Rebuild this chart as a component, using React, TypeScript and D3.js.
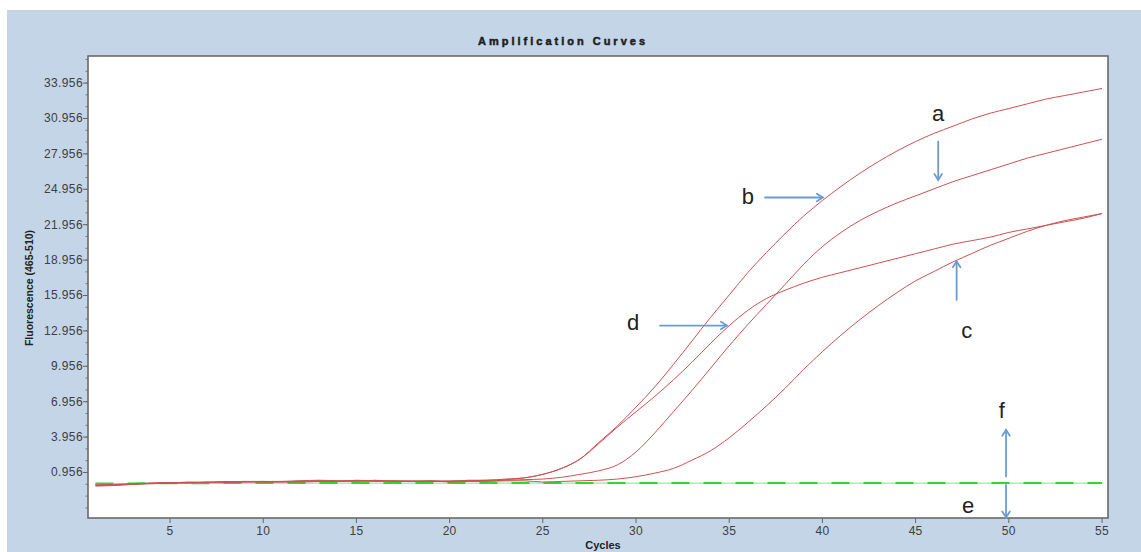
import React from "react";
import * as d3 from "d3";

// Cycle numbers on the x axis
const CYCLES = d3.range(1, 56);

// Fluorescence readings per cycle (cycles 1..55)
const SERIES_B = [
  -0.15, -0.1, -0.05, 0.05, 0.05, 0.1, 0.15, 0.15, 0.2, 0.15, 0.15, 0.2, 0.25, 0.2, 0.25, 0.25, 0.2, 0.2, 0.25, 0.2,
  0.25, 0.3, 0.35, 0.5, 0.8, 1.3, 2.1, 3.5, 4.9, 6.5, 8.2, 10.1, 12.1, 14.1, 16.0, 17.9, 19.6, 21.2, 22.7, 24.0,
  25.2, 26.3, 27.3, 28.2, 29.0, 29.7, 30.3, 30.9, 31.4, 31.8, 32.2, 32.6, 32.9, 33.2, 33.5,
];
const SERIES_A = [
  -0.1, -0.1, 0.0, 0.05, 0.1, 0.1, 0.1, 0.2, 0.15, 0.15, 0.2, 0.25, 0.2, 0.2, 0.3, 0.25, 0.25, 0.2, 0.2, 0.25,
  0.25, 0.25, 0.3, 0.35, 0.4, 0.55, 0.8, 1.1, 1.6, 2.7, 4.3, 6.1, 7.9, 9.8, 11.7, 13.5, 15.2, 16.9, 18.6, 20.1,
  21.3, 22.3, 23.1, 23.8, 24.4, 25.0, 25.6, 26.1, 26.6, 27.1, 27.6, 28.0, 28.4, 28.8, 29.2,
];
const SERIES_D = [
  -0.2, -0.15, -0.05, 0.0, 0.05, 0.15, 0.1, 0.15, 0.2, 0.2, 0.15, 0.25, 0.3, 0.25, 0.2, 0.3, 0.2, 0.25, 0.2, 0.2,
  0.3, 0.3, 0.4, 0.5, 0.8, 1.3, 2.1, 3.4, 4.8, 6.1, 7.4, 8.8, 10.3, 11.9, 13.4, 14.7, 15.7, 16.4, 17.0, 17.5,
  17.9, 18.3, 18.7, 19.1, 19.5, 19.9, 20.3, 20.6, 20.9, 21.3, 21.6, 21.9, 22.2, 22.5, 22.9,
];
const SERIES_C = [
  -0.1, -0.05, 0.0, 0.05, 0.1, 0.05, 0.15, 0.1, 0.15, 0.2, 0.2, 0.15, 0.2, 0.25, 0.25, 0.2, 0.25, 0.2, 0.25, 0.15,
  0.2, 0.2, 0.25, 0.25, 0.15, 0.2, 0.25, 0.3, 0.4, 0.6, 0.9, 1.3, 2.0, 2.8, 3.9, 5.2, 6.6, 8.1, 9.7, 11.2,
  12.6, 13.9, 15.1, 16.2, 17.2, 18.0, 18.8, 19.5, 20.2, 20.8, 21.4, 21.9, 22.3, 22.6, 22.9,
];
// Negative controls (flat)
const SERIES_E = [
  0.0, 0.0, 0.02, 0.03, 0.03, 0.04, 0.04, 0.04, 0.05, 0.05, 0.05, 0.05, 0.05, 0.05, 0.05, 0.05, 0.05, 0.05, 0.05, 0.05,
  0.05, 0.05, 0.05, 0.05, 0.05, 0.05, 0.05, 0.05, 0.05, 0.05, 0.05, 0.05, 0.05, 0.05, 0.05, 0.05, 0.05, 0.05, 0.05, 0.05,
  0.05, 0.05, 0.05, 0.05, 0.05, 0.05, 0.05, 0.05, 0.05, 0.05, 0.05, 0.05, 0.05, 0.05, 0.05,
];
const SERIES_F = [
  0.02, 0.02, 0.03, 0.04, 0.05, 0.05, 0.05, 0.06, 0.06, 0.06, 0.06, 0.06, 0.06, 0.06, 0.06, 0.06, 0.06, 0.06, 0.06, 0.06,
  0.06, 0.06, 0.06, 0.06, 0.06, 0.06, 0.06, 0.06, 0.06, 0.06, 0.06, 0.06, 0.06, 0.06, 0.06, 0.06, 0.06, 0.06, 0.06, 0.06,
  0.06, 0.06, 0.06, 0.06, 0.06, 0.06, 0.06, 0.06, 0.06, 0.06, 0.06, 0.06, 0.06, 0.06, 0.06,
];

const X_TICKS = [5, 10, 15, 20, 25, 30, 35, 40, 45, 50, 55];
const Y_TICKS = [0.956, 3.956, 6.956, 9.956, 12.956, 15.956, 18.956, 21.956, 24.956, 27.956, 30.956, 33.956];
const Y_MINOR = d3.range(-2.044, 36.2, 1);

// Letter callouts in data units: label anchor and arrow tail -> tip
const CALLOUTS = [
  { label: "a", lx: 46.2, ly: 30.76, x1: 46.21, y1: 29.0, x2: 46.21, y2: 25.75 },
  { label: "b", lx: 36.0, ly: 23.73, x1: 36.92, y1: 24.26, x2: 40.02, y2: 24.26 },
  { label: "c", lx: 47.74, ly: 12.37, x1: 47.2, y1: 15.59, x2: 47.2, y2: 18.84 },
  { label: "d", lx: 29.84, ly: 13.05, x1: 31.29, y1: 13.41, x2: 34.87, y2: 13.41 },
  { label: "f", lx: 49.62, ly: 5.59, x1: 49.85, y1: 0.62, x2: 49.85, y2: 4.57 },
  { label: "e", lx: 47.81, ly: -2.44, x1: 49.85, y1: -0.09, x2: 49.85, y2: -2.85 },
];

const W = 1141;
const H = 552;
const M = { left: 88, right: 1108, top: 56, bottom: 518 };

export default function App() {
  const x = d3.scaleLinear().domain([0.6, 55.32]).range([M.left, M.right]);
  const y = d3.scaleLinear().domain([-2.9, 36.25]).range([M.bottom, M.top]);

  const line = d3
    .line<number>()
    .x((_, i) => x(CYCLES[i]))
    .y((v) => y(v))
    .curve(d3.curveMonotoneX);

  const redSeries = [SERIES_B, SERIES_A, SERIES_D, SERIES_C];
  const font = "'Liberation Sans', Arial, sans-serif";

  const arrow = (c: (typeof CALLOUTS)[number]) => {
    const ax = x(c.x1), ay = y(c.y1), bx = x(c.x2), by = y(c.y2);
    const ang = Math.atan2(by - ay, bx - ax);
    const L = 7, spread = Math.PI / 5.5;
    const w1 = [bx - L * Math.cos(ang - spread), by - L * Math.sin(ang - spread)];
    const w2 = [bx - L * Math.cos(ang + spread), by - L * Math.sin(ang + spread)];
    return (
      <g key={"arr" + c.label} stroke="#6c9bd2" strokeWidth={1.8} fill="none" strokeLinecap="round">
        <line x1={ax} y1={ay} x2={bx} y2={by} />
        <polyline points={`${w1[0]},${w1[1]} ${bx},${by} ${w2[0]},${w2[1]}`} />
      </g>
    );
  };

  return (
    <svg
      width={W}
      height={H}
      style={{ position: "fixed", left: 0, top: 0, background: "#ffffff" }}
      fontFamily={font}
    >
      <rect x={7} y={10} width={W - 7} height={H - 10} fill="#c3d5e6" />
      <text
        x={563}
        y={45}
        textAnchor="middle"
        fontSize={11}
        fontWeight="bold"
        letterSpacing={3}
        fill="#1e1e1e"
        stroke="#1e1e1e"
        strokeWidth={0.5}
      >
        Amplification Curves
      </text>

      <rect x={M.left} y={M.top} width={M.right - M.left} height={M.bottom - M.top} fill="#ffffff" />

      {/* y axis ticks */}
      {Y_MINOR.map((v) => (
        <line key={"ym" + v} x1={M.left - 2.5} x2={M.left} y1={y(v)} y2={y(v)} stroke="#777" strokeWidth={1} />
      ))}
      {Y_TICKS.map((v) => (
        <g key={"yt" + v}>
          <line x1={M.left - 5} x2={M.left} y1={y(v)} y2={y(v)} stroke="#666" strokeWidth={1} />
          <text x={M.left - 5} y={y(v) + 4} textAnchor="end" fontSize={12} letterSpacing={0.4} fill="#404040">
            {v.toFixed(3)}
          </text>
        </g>
      ))}
      {/* x axis ticks */}
      {X_TICKS.map((t) => (
        <g key={"xt" + t}>
          <line x1={x(t)} x2={x(t)} y1={M.bottom} y2={M.bottom + 5} stroke="#666" strokeWidth={1} />
          <text x={x(t)} y={M.bottom + 17} textAnchor="middle" fontSize={12} letterSpacing={0.3} fill="#404040">
            {t}
          </text>
        </g>
      ))}

      {/* negative controls */}
      <path d={line(SERIES_E) ?? ""} fill="none" stroke="#9be89b" strokeWidth={1.2} />
      <path d={line(SERIES_F) ?? ""} fill="none" stroke="#2ed82e" strokeWidth={2} strokeDasharray="18 14" />

      {/* amplification curves */}
      {redSeries.map((s, i) => (
        <path key={"s" + i} d={line(s) ?? ""} fill="none" stroke="#cc5252" strokeWidth={1} />
      ))}

      {/* plot frame */}
      <rect
        x={M.left}
        y={M.top}
        width={M.right - M.left}
        height={M.bottom - M.top}
        fill="none"
        stroke="#6a6a6a"
        strokeWidth={1.6}
      />

      {/* callouts */}
      {CALLOUTS.map(arrow)}
      {CALLOUTS.map((c) => (
        <text key={"lb" + c.label} x={x(c.lx)} y={y(c.ly)} textAnchor="middle" fontSize={22} fill="#222">
          {c.label}
        </text>
      ))}

      <text
        transform={`translate(33,${288}) rotate(-90)`}
        textAnchor="middle"
        fontSize={10.5}
        fontWeight="bold"
        fill="#222"
      >
        Fluorescence (465-510)
      </text>
      <text x={603} y={549} textAnchor="middle" fontSize={11} fontWeight="bold" fill="#222">
        Cycles
      </text>
    </svg>
  );
}
